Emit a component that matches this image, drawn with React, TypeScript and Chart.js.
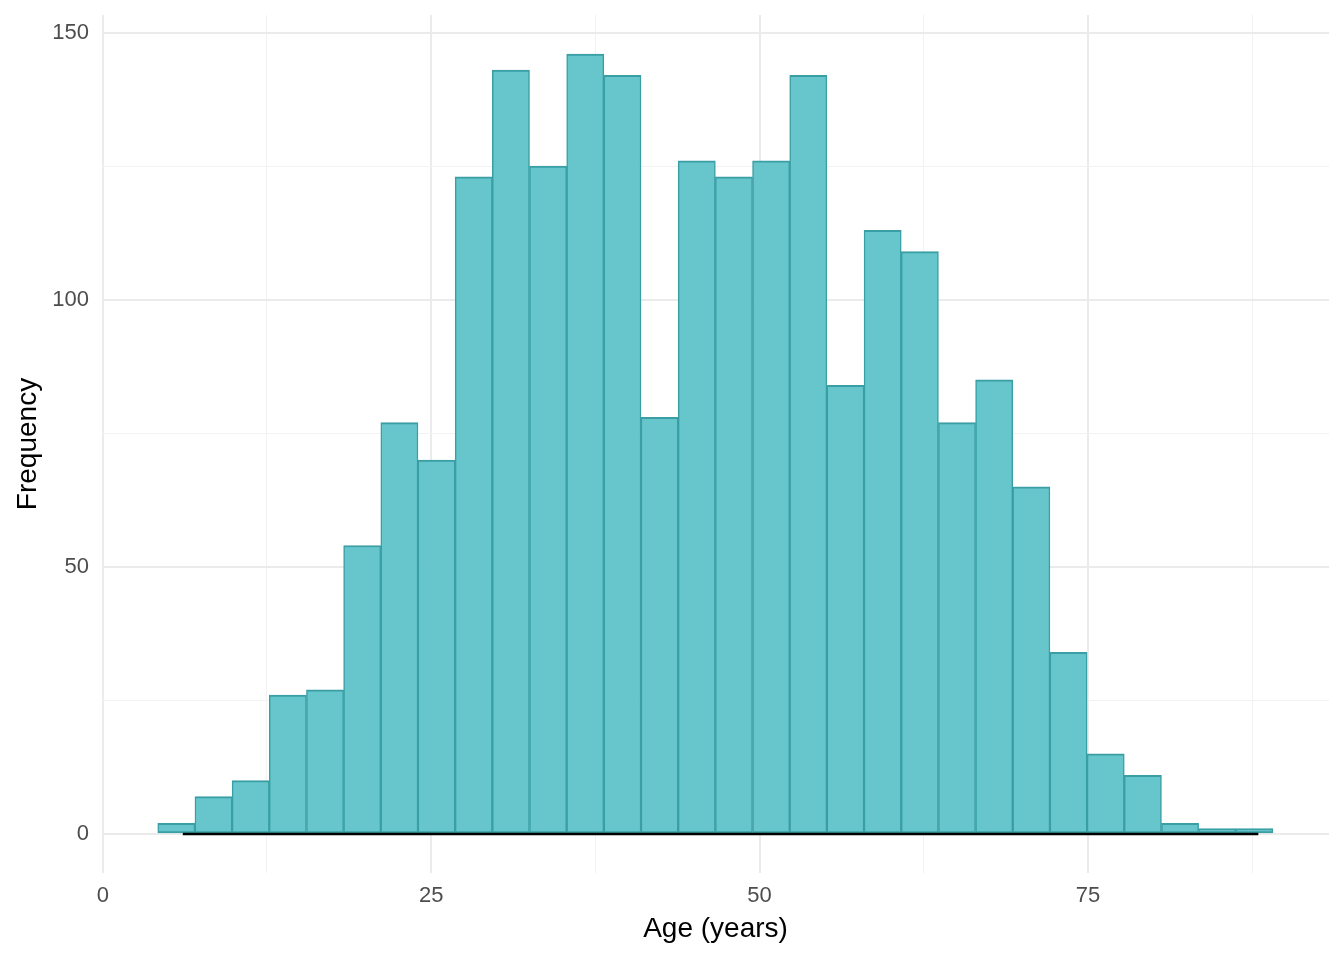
import React, { useEffect, useRef } from "react";
import { Chart, registerables } from "chart.js";

Chart.register(...registerables);

// Histogram bin centers (Age, years) and counts
const binCenters = [
  5.6, 8.43, 11.26, 14.09, 16.92, 19.75, 22.58, 25.41, 28.24, 31.07,
  33.9, 36.73, 39.56, 42.39, 45.22, 48.05, 50.88, 53.71, 56.54, 59.37,
  62.2, 65.03, 67.86, 70.69, 73.52, 76.35, 79.18, 82.01, 84.84, 87.67,
];
const counts = [
  2, 7, 10, 26, 27, 54, 77, 70, 123, 143,
  125, 146, 142, 78, 126, 123, 126, 142, 84, 113,
  109, 77, 85, 65, 34, 15, 11, 2, 1, 1,
];
// density curve (near zero on count scale) over data range
const densityX = [6.09, 87.97];
const densityY = [0, 0];

const xTicks = [0, 12.5, 25, 37.5, 50, 62.5, 75, 87.5];
const yTicks = [0, 25, 50, 75, 100, 125, 150];
const xLabelEvery = 25;
const yLabelEvery = 50;

const FONT = "'Liberation Sans', Arial, sans-serif";

export default function App() {
  const ref = useRef<HTMLCanvasElement | null>(null);
  useEffect(() => {
    document.body.style.margin = "0";
    const ctx = ref.current!;
    const chart = new Chart(ctx, {
      type: "bar",
      data: {
        datasets: [
          {
            type: "line",
            data: densityX.map((x, i) => ({ x, y: densityY[i] })),
            borderColor: "#000000",
            borderWidth: 2.5,
            pointRadius: 0,
            fill: false,
            order: 0,
          } as any,
          {
            type: "bar",
            data: binCenters.map((x, i) => ({ x, y: counts[i] })),
            backgroundColor: "#66C6CC",
            borderColor: "#3A9FA5",
            borderWidth: { top: 2, left: 1.5, right: 1.5, bottom: 2 },
            borderSkipped: false,
            barPercentage: 1,
            categoryPercentage: 1,
            grouped: false,
            order: 1,
          } as any,
        ],
      },
      options: {
        animation: false,
        responsive: false,
        devicePixelRatio: 1,
        layout: { padding: { top: 15, right: 15, left: 0, bottom: 0 } },
        plugins: { legend: { display: false }, tooltip: { enabled: false } },
        scales: {
          x: {
            type: "linear",
            min: -0.06,
            max: 93.35,
            offset: false,
            border: { display: false },
            afterBuildTicks: (s: any) => {
              s.ticks = xTicks.map((v) => ({ value: v }));
            },
            afterFit: (s: any) => {
              s.height = 87;
              s.paddingLeft = 0;
              s.paddingRight = 0;
            },
            grid: {
              offset: false,
              drawTicks: false,
              color: (c: any) =>
                c.tick && c.tick.value % xLabelEvery === 0 ? "#EBEBEB" : "#F2F2F2",
              lineWidth: (c: any) =>
                c.tick && c.tick.value % xLabelEvery === 0 ? 2 : 1,
            },
            ticks: {
              padding: 10,
              color: "#4D4D4D",
              font: { family: FONT, size: 22 },
              autoSkip: false,
              maxRotation: 0,
              callback: (v: any) => (Number(v) % xLabelEvery === 0 ? String(v) : ""),
            },
            title: {
              display: true,
              text: "Age (years)",
              color: "#000000",
              font: { family: FONT, size: 28 },
              padding: { top: 4, bottom: 14 },
            },
          },
          y: {
            type: "linear",
            min: -7.3,
            max: 153.3,
            border: { display: false },
            afterBuildTicks: (s: any) => {
              s.ticks = yTicks.map((v) => ({ value: v }));
            },
            afterFit: (s: any) => {
              s.width = 102;
              s.paddingTop = 0;
              s.paddingBottom = 0;
            },
            grid: {
              drawTicks: false,
              color: (c: any) =>
                c.tick && c.tick.value % yLabelEvery === 0 ? "#EBEBEB" : "#F2F2F2",
              lineWidth: (c: any) =>
                c.tick && c.tick.value % yLabelEvery === 0 ? 2 : 1,
            },
            ticks: {
              padding: 13,
              color: "#4D4D4D",
              font: { family: FONT, size: 22 },
              autoSkip: false,
              callback: (v: any) => (Number(v) % yLabelEvery === 0 ? String(v) : ""),
            },
            title: {
              display: true,
              text: "Frequency",
              color: "#000000",
              font: { family: FONT, size: 28 },
              padding: { top: 11, bottom: 4 },
            },
          },
        },
      },
    });
    return () => chart.destroy();
  }, []);
  return (
    <div style={{ width: 1344, height: 960 }}>
      <canvas ref={ref} width={1344} height={960} style={{ display: "block" }} />
    </div>
  );
}
